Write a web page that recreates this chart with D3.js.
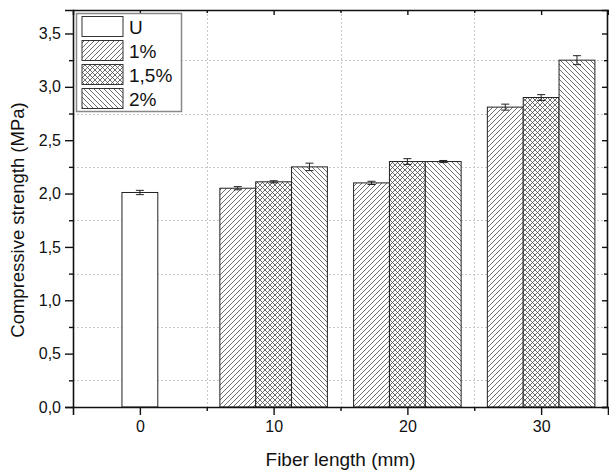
<!DOCTYPE html>
<html>
<head>
<meta charset="utf-8">
<script src="https://cdn.jsdelivr.net/npm/d3@7"></script>
<style>
  body { margin: 0; background: #fff; }
  svg { display: block; font-family: "Liberation Sans", Arial, sans-serif; }
</style>
</head>
<body>
<svg id="chart" width="609" height="471"></svg>
<script>
// ---- data ----
const categories = [0, 10, 20, 30];
const seriesNames = ["U", "1%", "1,5%", "2%"];
const valuesU   = [2.01, null, null, null];
const values1   = [null, 2.05, 2.10, 2.81];
const values15  = [null, 2.11, 2.30, 2.90];
const values2   = [null, 2.25, 2.30, 3.25];
const errU      = [0.02, null, null, null];
const err1      = [null, 0.015, 0.015, 0.028];
const err15     = [null, 0.01, 0.027, 0.027];
const err2      = [null, 0.035, 0.01, 0.042];
const yTicks = [0, 0.5, 1.0, 1.5, 2.0, 2.5, 3.0, 3.5];
const yMinorTicks = [0.25, 0.75, 1.25, 1.75, 2.25, 2.75, 3.25];
const xTicks = [0, 10, 20, 30];
const xMinorTicks = [5, 15, 25];
const xLabel = "Fiber length (mm)";
const yLabel = "Compressive strength (MPa)";

const seriesValues = [valuesU, values1, values15, values2];
const seriesErrors = [errU, err1, err15, err2];
const seriesOffsets = [0, -1, 0, 1];   // in bar widths
const patterns = ["none", "hatchF", "cross", "hatchB"];

const svg = d3.select("#chart");
const L = 73, R = 608, T = 10, B = 407;
const x = d3.scaleLinear().domain([-5, 35]).range([L, R]);
const y = d3.scaleLinear().domain([0, 3.72]).range([B, T]);
const barW = 2.68; // data units

// patterns
const defs = svg.append("defs");
function pat(id, d, size) {
  const p = defs.append("pattern").attr("id", id).attr("patternUnits", "userSpaceOnUse")
    .attr("width", size).attr("height", size);
  p.append("rect").attr("width", size).attr("height", size).attr("fill", "#fff");
  p.append("path").attr("d", d).attr("stroke", "#4a4a4a").attr("stroke-width", 0.8).attr("fill", "none");
}
const s = 5;
pat("hatchF", `M0,${s} L${s},0 M-1,1 L1,-1 M${s-1},${s+1} L${s+1},${s-1}`, s);
pat("hatchB", `M0,0 L${s},${s} M-1,${s-1} L1,${s+1} M${s-1},-1 L${s+1},1`, s);
pat("cross", `M0,${s} L${s},0 M-1,1 L1,-1 M${s-1},${s+1} L${s+1},${s-1} M0,0 L${s},${s} M-1,${s-1} L1,${s+1} M${s-1},-1 L${s+1},1`, s);
const fillOf = i => patterns[i] === "none" ? "#fff" : `url(#${patterns[i]})`;

// grid
const grid = svg.append("g").attr("stroke", "#c8c8c8").attr("stroke-width", 1).attr("stroke-dasharray", "2,2");
yMinorTicks.forEach(v => grid.append("line").attr("x1", L).attr("x2", R).attr("y1", Math.round(y(v)) + 0.5).attr("y2", Math.round(y(v)) + 0.5));
xMinorTicks.forEach(v => grid.append("line").attr("y1", T).attr("y2", B).attr("x1", Math.round(x(v)) + 0.5).attr("x2", Math.round(x(v)) + 0.5));

// bars
const barsG = svg.append("g");
seriesValues.forEach((vals, si) => {
  vals.forEach((v, ci) => {
    if (v == null) return;
    const cx = categories[ci] + seriesOffsets[si] * barW;
    const x0 = x(cx - barW / 2), x1 = x(cx + barW / 2);
    barsG.append("rect")
      .attr("x", x0).attr("y", y(v)).attr("width", x1 - x0).attr("height", y(0) - y(v))
      .attr("fill", fillOf(si)).attr("stroke", "#222").attr("stroke-width", 1);
    const e = seriesErrors[si][ci];
    const px = x(cx);
    const eg = barsG.append("g").attr("stroke", "#222").attr("stroke-width", 1);
    eg.append("line").attr("x1", px).attr("x2", px).attr("y1", y(v + e)).attr("y2", y(v - e));
    eg.append("line").attr("x1", px - 4).attr("x2", px + 4).attr("y1", y(v + e)).attr("y2", y(v + e));
    eg.append("line").attr("x1", px - 4).attr("x2", px + 4).attr("y1", y(v - e)).attr("y2", y(v - e));
  });
});

// axes
const fmt = d => d3.format(".1f")(d).replace(".", ",");
svg.append("g").attr("transform", `translate(${L},0)`)
  .call(d3.axisLeft(y).tickValues(yTicks).tickFormat(fmt).tickSize(8).tickPadding(4));
svg.append("g").attr("transform", `translate(${L},0)`)
  .call(d3.axisLeft(y).tickValues(yMinorTicks).tickFormat("").tickSize(4)).select(".domain").remove();
svg.append("g").attr("transform", `translate(0,${B})`)
  .call(d3.axisBottom(x).tickValues(xTicks).tickFormat(d3.format("d")).tickSize(8).tickPadding(6));
svg.append("g").attr("transform", `translate(0,${B})`)
  .call(d3.axisBottom(x).tickValues(xMinorTicks).tickFormat("").tickSize(4)).select(".domain").remove();
// mirror axes
svg.append("g").attr("transform", `translate(0,${T})`)
  .call(d3.axisBottom(x).tickValues(xTicks).tickFormat("").tickSize(5));
svg.append("g").attr("transform", `translate(0,${T})`)
  .call(d3.axisBottom(x).tickValues(xMinorTicks).tickFormat("").tickSize(3)).select(".domain").remove();
svg.append("g").attr("transform", `translate(${R - 1},0)`)
  .call(d3.axisLeft(y).tickValues(yTicks).tickFormat("").tickSize(5));
svg.append("g").attr("transform", `translate(${R - 1},0)`)
  .call(d3.axisLeft(y).tickValues(yMinorTicks).tickFormat("").tickSize(3)).select(".domain").remove();

svg.selectAll(".domain").attr("stroke", "#111").attr("stroke-width", 1.6);
svg.selectAll(".tick line").attr("stroke", "#111").attr("stroke-width", 1.4);
svg.selectAll(".tick text").attr("font-size", 16).attr("fill", "#111")
  .attr("font-family", '"Liberation Sans", Arial, sans-serif');

// axis titles
svg.append("text").attr("x", (L + R) / 2).attr("y", 466).attr("text-anchor", "middle")
  .attr("font-size", 19).attr("fill", "#111").text(xLabel);
svg.append("text").attr("transform", `translate(24,${220}) rotate(-90)`).attr("text-anchor", "middle")
  .attr("font-size", 18.5).attr("fill", "#111").text(yLabel);

// legend
const lg = svg.append("g");
lg.append("rect").attr("x", 76.5).attr("y", 13.5).attr("width", 105).attr("height", 98)
  .attr("fill", "#fff").attr("stroke", "#888").attr("stroke-width", 1.5);
seriesNames.forEach((n, i) => {
  const yy = 16.5 + i * 24;
  lg.append("rect").attr("x", 82).attr("y", yy).attr("width", 41).attr("height", 20)
    .attr("fill", fillOf(i)).attr("stroke", "#333").attr("stroke-width", 1);
  lg.append("text").attr("x", 129).attr("y", yy + 17).attr("font-size", 19).attr("fill", "#111").text(n);
});
</script>
</body>
</html>
